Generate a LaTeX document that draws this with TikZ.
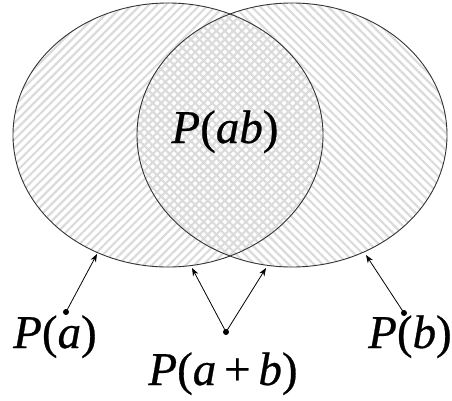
\documentclass[tikz,border=0pt]{standalone}
\usepackage{fontspec}
\setmainfont{Liberation Serif}
\usetikzlibrary{patterns.meta,arrows.meta}
\begin{document}
\begin{tikzpicture}[x=1pt,y=-1pt,
  outline/.style={draw=black!80, line width=0.9pt},
  hatchL/.style={pattern={Lines[angle=45,distance=6pt,line width=2.2pt]}, pattern color=black!14},
  hatchR/.style={pattern={Lines[angle=-45,distance=6pt,line width=2.2pt]}, pattern color=black!14},
  ptr/.style={-{Stealth[length=8pt,width=6pt]}, line width=0.8pt},
  dotnode/.style={circle, fill=black, inner sep=0pt, minimum size=6pt},
  lbl/.style={font=\fontsize{47}{47}\selectfont\itshape\addfontfeatures{FakeBold=0.6}\upshape\addfontfeatures{FakeBold=0.6}, inner sep=0pt, anchor=base}]
\useasboundingbox (0,0) rectangle (452,400);
\fill[hatchL] (168,135) ellipse [x radius=155, y radius=132];
\fill[hatchR] (292,135) ellipse [x radius=155, y radius=132];
\draw[outline] (168,135) ellipse [x radius=155, y radius=132];
\draw[outline] (292,135) ellipse [x radius=155, y radius=132];
\node[lbl] (pab) at (225,143) {\textit{P}(\textit{ab})};
\node[dotnode] (da) at (66,312) {};
\node[dotnode] (dab) at (226,332) {};
\node[dotnode] (db) at (404,313) {};
\coordinate (ta) at (97,254);
\coordinate (tab1) at (192,268);
\coordinate (tab2) at (266,268);
\coordinate (tb) at (366,255);
\draw[ptr] (da.center) -- (ta);
\draw[ptr] (dab.center) -- (tab1);
\draw[ptr] (dab.center) -- (tab2);
\draw[ptr] (db.center) -- (tb);
\node[lbl] (la) at (55,348) {\textit{P}(\textit{a})};
\node[lbl] (lab) at (223,385) {\textit{P}(\textit{a}\,+\,\textit{b})};
\node[lbl] (lb) at (410,348) {\textit{P}(\textit{b})};
\end{tikzpicture}
\end{document}
